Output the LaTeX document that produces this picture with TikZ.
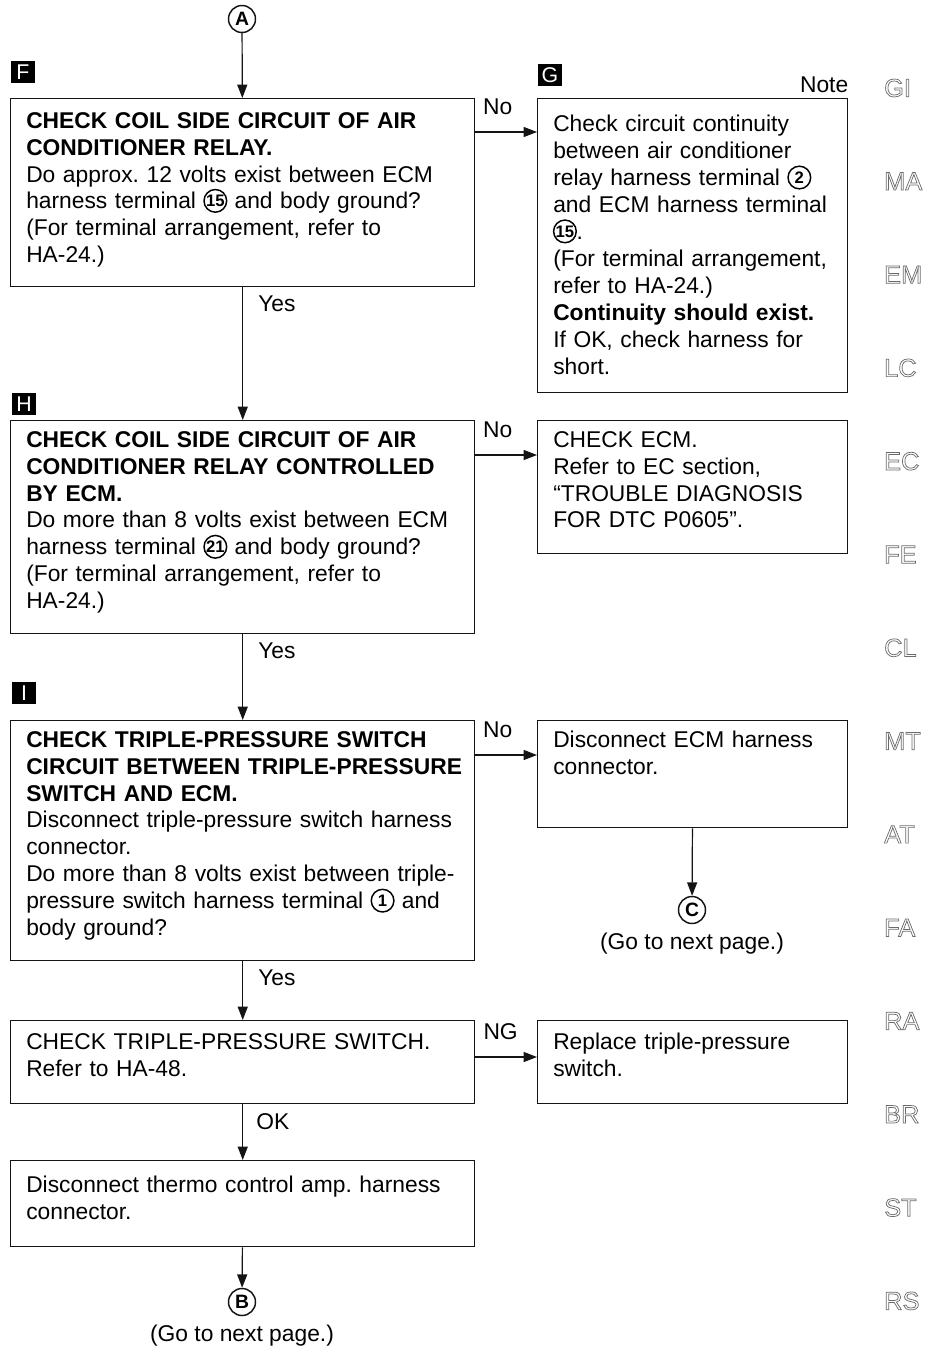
\documentclass[tikz,border=0pt]{standalone}
\usepackage{fontspec}
\setmainfont{Liberation Sans}
\usepackage{pict2e}
\usepackage{tikz}
\usetikzlibrary{
  arrows.meta,
  positioning
}
\definecolor{InkBlack}{RGB}{20, 20, 20}
\newlength\px
\setlength\px{0.75pt}
\newcommand\circnum[1]{{\setlength\unitlength{1pt}\linethickness{1.1pt}\begin{picture}(17.5,0)\put(8.75,6.1){\circle{17}}\put(8.75,6.1){\makebox(0,0){\fontsize{12.5}{12.5}\selectfont\bfseries #1}}\end{picture}}}
\newcommand\outlined[1]{\special{pdf:literal direct 1 Tr 0.55 w 0.42 G}#1\special{pdf:literal direct 0 Tr 0 G}}
\frenchspacing
\tikzset{
    stepbox/.style={draw=InkBlack, line width=1.1pt, anchor=north west, inner sep=0pt, minimum width=464\px},
    sidebox/.style={stepbox, minimum width=310\px},
    boxtext/.style={anchor=north west, inner sep=0pt, align=left, text width=#1, font=\fontsize{17.1}{20.2}\selectfont},
    boxtext/.default=444\px,
    lbl/.style={inner sep=0pt, font=\fontsize{17.1}{20.2}\selectfont},
    nolbl/.style={lbl, pos=0.36, above=16.5\px},
    yeslbl/.style={lbl, pos=0, anchor=north west, xshift=15\px, yshift=-8\px},
    goto/.style={circle, draw=InkBlack, line width=1.1pt, minimum size=27\px, inner sep=0pt, font=\fontsize{14.5}{14.5}\selectfont\bfseries},
    tag/.style={fill=black, text=white, minimum width=24\px, minimum height=22\px, inner sep=0pt, font=\fontsize{16}{16}\selectfont},
    tab/.style={anchor=west, inner sep=0pt, font=\fontsize{19}{19}\selectfont},
    arr/.style={draw=InkBlack, line width=0.9pt, -{Triangle[length=10pt, width=7.5pt]}}
}

\begin{document}
\begin{tikzpicture}[x=0.75pt, y=-0.75pt]
            \useasboundingbox (0,0) rectangle (928,1346);
            \node[goto] (A) at (242,19) {A};

            \node[tag] (tagF) at (23,72) {F};
            \node[stepbox, minimum height=188\px] (F) at (10,98) {};
            \node[boxtext] (textF) at (26,112) {\textbf{CHECK COIL SIDE CIRCUIT OF AIR\\CONDITIONER RELAY.}\\Do approx. 12 volts exist between ECM\\harness terminal \circnum{15} and body ground?\\(For terminal arrangement, refer to\\HA-24.)};

            \node[tag] (tagG) at (550,75) {G};
            \node[sidebox, minimum height=294\px] (G) at (537,98) {};
            \node[lbl, anchor=base east, yshift=6\px] (note) at (G.north east) {Note};
            \node[boxtext=288\px] (textG) at (553,115) {Check circuit continuity\\between air conditioner\\relay harness terminal \circnum{2}\\and ECM harness terminal\\\circnum{15}.\\(For terminal arrangement,\\refer to HA-24.)\\\textbf{Continuity should exist.}\\If OK, check harness for\\short.};

            \node[tag] (tagH) at (24,404) {H};
            \node[stepbox, minimum height=213\px] (H) at (10,420) {};
            \node[boxtext] (textH) at (26,431) {\textbf{CHECK COIL SIDE CIRCUIT OF AIR\\CONDITIONER RELAY CONTROLLED\\BY ECM.}\\Do more than 8 volts exist between ECM\\harness terminal \circnum{21} and body ground?\\(For terminal arrangement, refer to\\HA-24.)};

            \node[sidebox, minimum height=133\px] (ecm) at (537,420) {};
            \node[boxtext=288\px] (textecm) at (553,431) {CHECK ECM.\\Refer to EC section,\\``TROUBLE DIAGNOSIS\\FOR DTC P0605''.};

            \node[tag] (tagI) at (24,693) {I};
            \node[stepbox, minimum height=240\px] (I) at (10,720) {};
            \node[boxtext] (textI) at (26,731) {\textbf{CHECK TRIPLE-PRESSURE SWITCH\\CIRCUIT BETWEEN TRIPLE-PRESSURE\\SWITCH AND ECM.}\\Disconnect triple-pressure switch harness\\connector.\\Do more than 8 volts exist between triple-\\pressure switch harness terminal \circnum{1} and\\body ground?};

            \node[sidebox, minimum height=107\px] (disc) at (537,720) {};
            \node[boxtext=288\px] (textdisc) at (553,731) {Disconnect ECM harness\\connector.};
            \node[goto] (C) at (692,910) {C};
            \node[lbl, below=8\px of C] (nextC) {(Go to next page.)};

            \node[stepbox, minimum height=83\px] (sw) at (10,1020) {};
            \node[boxtext] (textsw) at (26,1033) {CHECK TRIPLE-PRESSURE SWITCH.\\Refer to HA-48.};

            \node[sidebox, minimum height=83\px] (rep) at (537,1020) {};
            \node[boxtext=288\px] (textrep) at (553,1033) {Replace triple-pressure\\switch.};

            \node[stepbox, minimum height=86\px] (thermo) at (10,1160) {};
            \node[boxtext] (textthermo) at (26,1176) {Disconnect thermo control amp. harness\\connector.};
            \node[goto] (B) at (242,1302) {B};
            \node[lbl, below=8\px of B] (nextB) {(Go to next page.)};

            \draw[arr] (A) -- (F);
            \draw[arr] (F) -- node[yeslbl] {Yes} (H);
            \draw[arr] (H) -- node[yeslbl] {Yes} (I);
            \draw[arr] (I) -- node[yeslbl] {Yes} (sw);
            \draw[arr] (sw) -- node[yeslbl, xshift=-2\px] {OK} (thermo);
            \draw[arr] (thermo) -- (B);
            \draw[arr] (disc) -- (C);

            \path ([yshift=-34\px]F.north east) coordinate (noF);
            \path ([yshift=-35\px]H.north east) coordinate (noH);
            \path ([yshift=-35\px]I.north east) coordinate (noI);
            \path ([yshift=-37\px]sw.north east) coordinate (ngsw);
            \draw[arr] (noF) -- node[nolbl] {No} (noF -| G.west);
            \draw[arr] (noH) -- node[nolbl] {No} (noH -| ecm.west);
            \draw[arr] (noI) -- node[nolbl] {No} (noI -| disc.west);
            \draw[arr] (ngsw) -- node[nolbl, xshift=3\px] {NG} (ngsw -| rep.west);

            \foreach \tabname [count=\k from 0] in {GI,MA,EM,LC,EC,FE,CL,MT,AT,FA,RA,BR,ST,RS}
                \node[tab] (tab\k) at (884, 88+93.3*\k) {\outlined{\tabname}};
        \end{tikzpicture}
\end{document}
